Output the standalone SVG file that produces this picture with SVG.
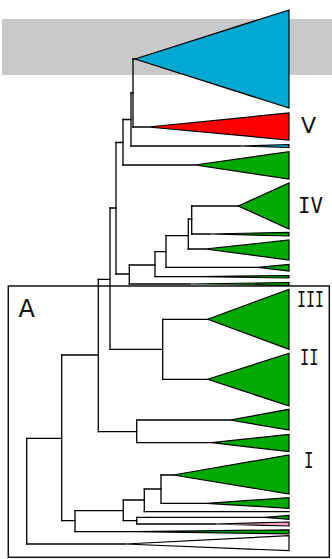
<svg xmlns="http://www.w3.org/2000/svg" width="332" height="559" viewBox="0 0 332 559">
<style>
.tree{fill:none;stroke:#000;stroke-width:1.3;stroke-linecap:square}
.clade{stroke:#000;stroke-width:1.2;stroke-linejoin:miter}
.g{fill:#00aa00}
.b{fill:#00a8d4}
.r{fill:#ff0000}
.p{fill:#f5a3c7}
.w{fill:#ffffff}
.num{font-family:"DejaVu Sans Mono",monospace;font-size:21px;fill:#111}
.lab{font-family:"DejaVu Sans",sans-serif;fill:#111}
</style>
<rect x="2" y="19" width="330" height="56" fill="#c8c9cb"/>
<g id="connectors" class="tree">
<path d="M133,59V127M131,93V146M123,119.5V165M116,142.5V274M110,208V349.3M98.3,279.3V431.7M61.7,355V520.7M26.7,438.3V544M191.7,206V234M188.3,219V249M166,235.7V267.3M155,251.7V276.7M129.3,265V284M162.7,319.3V379.3M136.7,420V442.7M161,475V503.3M144.3,489V511.7M123.3,500V520.7M136.7,517.3V524M75,510.7V531.7"/>
<path d="M133,59H135M131,93H133M133,127H148M131,146H240M123,119.5H131M123,165H195M116,142.5H123M110,208H116M116,274H129.3M98.3,279.3H110M110,349.3H162.7M61.7,355H98.3M98.3,431.7H136.7M26.7,438.3H61.7M191.7,206H238.3M191.7,234H210M188.3,219H191.7M188.3,249H205M166,235.7H188.3M166,267.3H258M155,251.7H166M155,276.7H200M129.3,265H155M129.3,284H190M162.7,319.3H207.7M162.7,379.3H207.7M136.7,420H230M136.7,442.7H211.7M161,475H173.3M161,503.3H206.7M144.3,489H161M144.3,511.7H289M123.3,500H144.3M123.3,520.7H136.7M136.7,517.3H265M136.7,524H215M75,510.7H123.3M75,531.7H135M61.7,520.7H75M26.7,544H125"/>
</g>
<g id="clade-blue-main"><polygon class="clade b" points="135,59 289,10 289,108"/></g>
<g id="clade-V"><polygon class="clade r" points="148,127 289,113 289,140"/></g>
<g id="clade-blue-small"><polygon class="clade b" points="240,146 289,144.5 289,147.5"/></g>
<g id="clade-g1"><polygon class="clade g" points="195,165 289,151.7 289,179"/></g>
<g id="clade-IV"><polygon class="clade g" points="238.3,206 289,183 289,229"/></g>
<g id="clade-g2"><polygon class="clade g" points="210,234 289,232.3 289,236"/></g>
<g id="clade-g3"><polygon class="clade g" points="205,249 289,240 289,260"/></g>
<g id="clade-g4"><polygon class="clade g" points="258,267.3 289,264.5 289,271"/></g>
<g id="clade-g5"><polygon class="clade g" points="200,276.7 289,275.5 289,278"/></g>
<g id="clade-g6"><polygon class="clade g" points="190,284 289,282.5 289,285.5"/></g>
<g id="clade-III"><polygon class="clade g" points="207.7,319.3 289,289.3 289,349.3"/></g>
<g id="clade-II"><polygon class="clade g" points="207.7,379.3 289,353.3 289,406"/></g>
<g id="clade-g7"><polygon class="clade g" points="230,420 289,409.3 289,430"/></g>
<g id="clade-g8"><polygon class="clade g" points="211.7,442.7 289,434.3 289,451.7"/></g>
<g id="clade-I"><polygon class="clade g" points="173.3,475 289,455 289,494"/></g>
<g id="clade-g9"><polygon class="clade g" points="206.7,503.3 289,497.7 289,508.3"/></g>
<g id="clade-g10"><polygon class="clade g" points="265,517.3 289,515.3 289,519.3"/></g>
<g id="clade-pink"><polygon class="clade p" points="215,524 289,522 289,526"/></g>
<g id="clade-g11"><polygon class="clade g" points="135,531.7 289,529.8 289,533.8"/></g>
<g id="clade-outgroup"><polygon class="clade w" points="125,544 289,535.7 289,550.7"/></g>
<g id="box-A">
<rect x="8.3" y="286" width="321" height="271.3" fill="none" stroke="#111" stroke-width="1.5"/>
<text class="lab" x="18.5" y="317" font-size="24">A</text>
</g>
<g id="labels">
<text class="lab" x="301" y="133" font-size="22">V</text>
<text class="num" x="298" y="212.7" textLength="25" lengthAdjust="spacingAndGlyphs">IV</text>
<text class="num" x="297" y="307" font-size="20" textLength="27" lengthAdjust="spacingAndGlyphs">III</text>
<text class="num" x="300" y="365" textLength="18.5" lengthAdjust="spacingAndGlyphs">II</text>
<text class="num" x="304" y="467.7" textLength="9.5" lengthAdjust="spacingAndGlyphs">I</text>
</g>
</svg>
